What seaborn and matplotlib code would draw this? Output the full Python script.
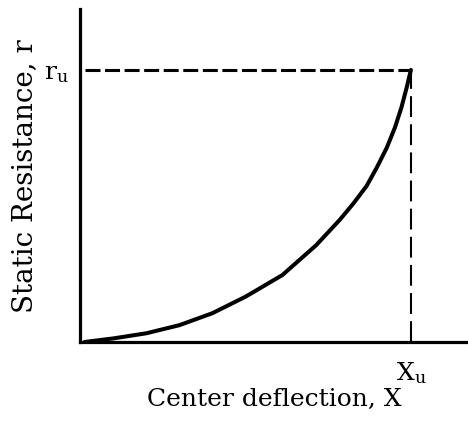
import matplotlib
matplotlib.use("Agg")
import matplotlib.pyplot as plt
import seaborn as sns
import pandas as pd

# Data (normalized: Xu = 1, ru = 1)
deflection = [0.0, 0.087, 0.189, 0.291, 0.392, 0.494, 0.606, 0.709, 0.782,
              0.823, 0.864, 0.895, 0.926, 0.951, 0.971, 0.987, 1.0]
resistance = [0.0, 0.013, 0.032, 0.062, 0.106, 0.167, 0.246, 0.355, 0.449,
              0.508, 0.573, 0.640, 0.714, 0.788, 0.862, 0.935, 1.0]
x_ultimate = 1.0
r_ultimate = 1.0
x_tick_labels = [r"X$_\mathrm{u}$"]
y_tick_labels = [r"r$_\mathrm{u}$"]

sns.set_style("white")
plt.rcParams["font.family"] = ["DejaVu Serif"]
plt.rcParams["mathtext.fontset"] = "dejavuserif"
plt.rcParams["text.color"] = "black"
plt.rcParams["axes.labelcolor"] = "black"
plt.rcParams["xtick.color"] = "black"
plt.rcParams["ytick.color"] = "black"

fig = plt.figure(figsize=(4.68, 4.27), dpi=100)
ax = fig.add_axes([80/468, 1 - 343/427, (468-80)/468, (343-10)/427])

df = pd.DataFrame({"x": deflection, "r": resistance})
sns.lineplot(data=df, x="x", y="r", ax=ax, color="black", linewidth=2.9,
             sort=False)

ax.plot([0.0, x_ultimate], [r_ultimate, r_ultimate], color="black", lw=2.2,
        dashes=(4.9, 1.5))
ax.plot([x_ultimate, x_ultimate], [0, r_ultimate], color="black", lw=1.5,
        dashes=(10, 3.5))

ax.set_xlim(-0.014, 1.175)
ax.set_ylim(0, 1.224)
for s in ["top", "right"]:
    ax.spines[s].set_visible(False)
for s in ["left", "bottom"]:
    ax.spines[s].set_color("black")
    ax.spines[s].set_linewidth(2.3)

ax.set_xticks([x_ultimate])
ax.set_xticklabels(x_tick_labels, fontsize=18)
ax.set_yticks([r_ultimate])
ax.set_yticklabels(y_tick_labels, fontsize=18)
ax.tick_params(axis="x", length=0, pad=12)
ax.tick_params(axis="y", length=0, pad=8)

ax.set_xlabel("Center deflection, X", fontsize=18, labelpad=2)
ax.set_ylabel("Static Resistance, r", fontsize=20, labelpad=4)

fig.savefig("out.png", dpi=100)
